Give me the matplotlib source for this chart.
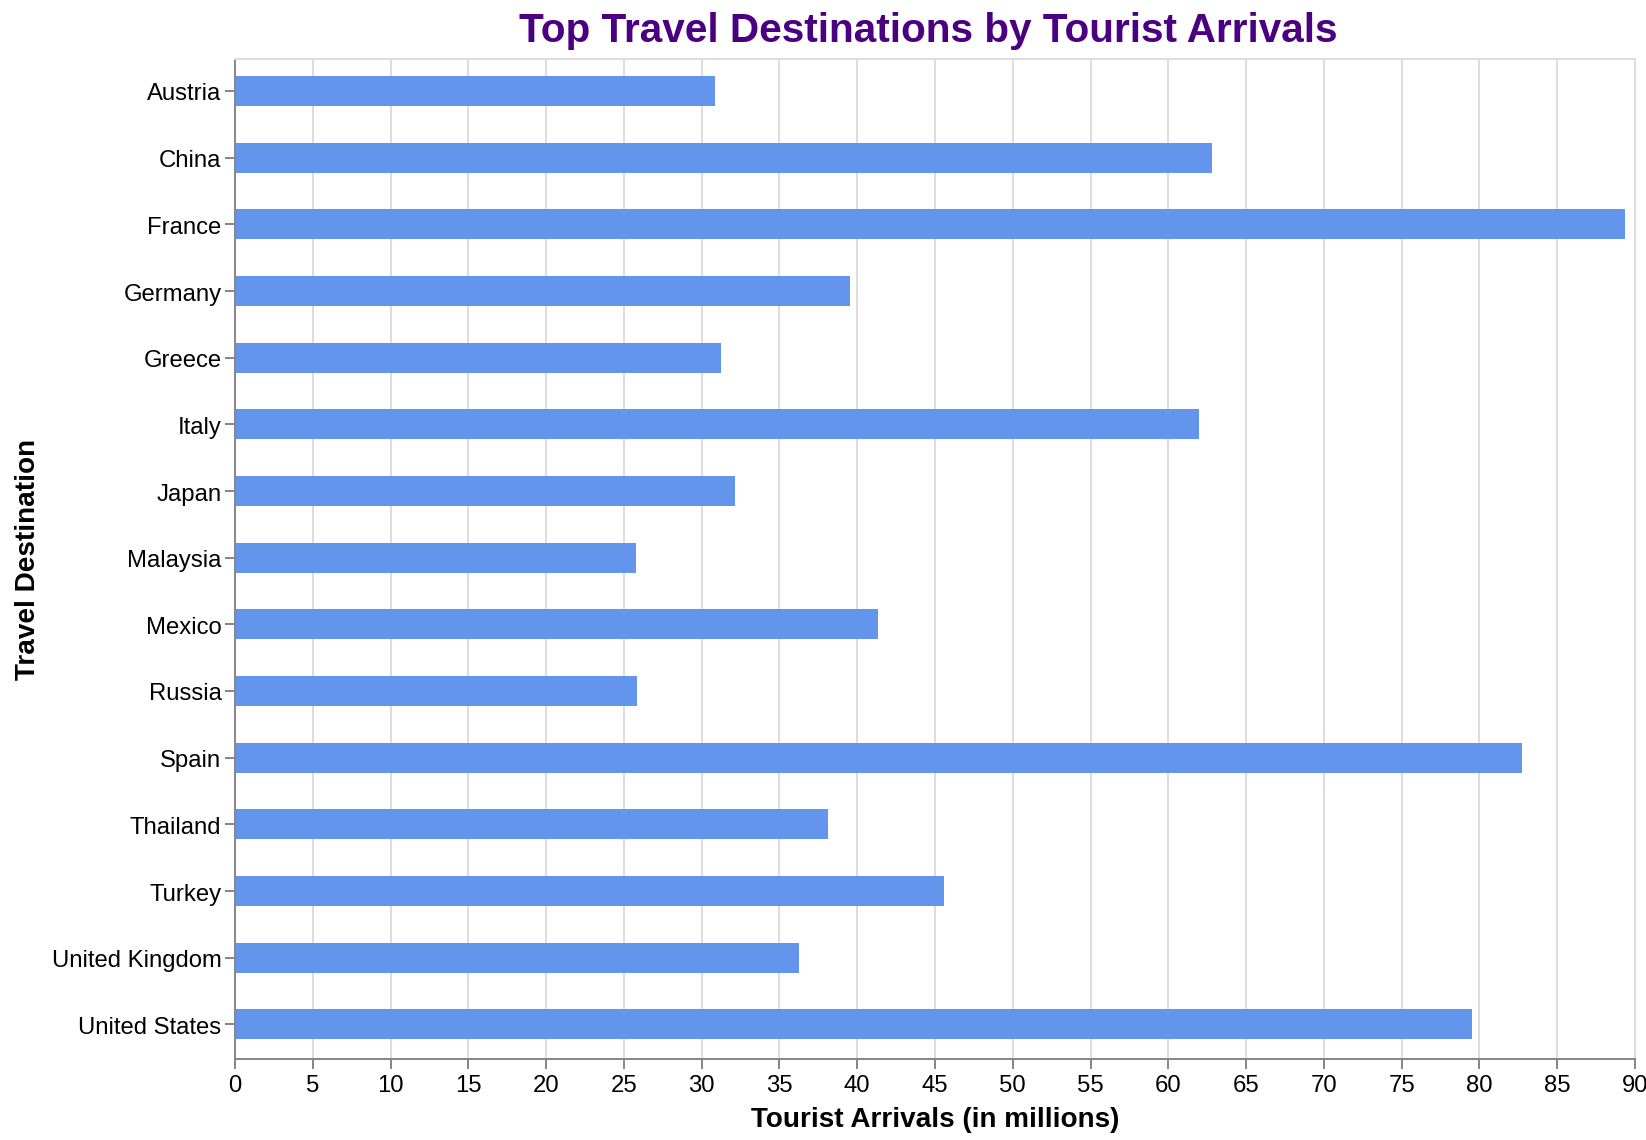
#!/usr/bin/env python3
"""Top travel destinations as a horizontal bar chart"""

import matplotlib
matplotlib.use('Agg')
import matplotlib.pyplot as plt
from matplotlib.transforms import ScaledTranslation

plt.rcParams['font.family'] = ['Liberation Sans', 'DejaVu Sans']

# Values (millions)
COUNTRIES = ['Austria', 'China', 'France', 'Germany', 'Greece', 'Italy', 'Japan',
             'Malaysia', 'Mexico', 'Russia', 'Spain', 'Thailand', 'Turkey',
             'United Kingdom', 'United States']
ARRIVALS = [30.85, 62.8, 89.35, 39.55, 31.25, 62.0, 32.15, 25.75, 41.35, 25.85,
            82.75, 38.15, 45.55, 36.25, 79.55]
X_TICKS = list(range(0, 95, 5))

W, H = 1646, 1140
fig = plt.figure(figsize=(W / 100, H / 100), dpi=100)

# plot area in pixels
left, right, top, bottom = 235, 1635, 59, 1059
ax = fig.add_axes([left / W, 1 - bottom / H, (right - left) / W, (bottom - top) / H])

y_pos = list(range(len(COUNTRIES)))
ax.barh(y_pos, ARRIVALS, height=0.45, color='#6495ED', zorder=2)

ax.set_xlim(0, 90)
# bars sit about a pixel above the middle of their bands
ax.set_ylim(len(COUNTRIES) - 0.48, -0.48)
ax.set_xticks(X_TICKS)
ax.set_yticks(y_pos)
ax.set_yticklabels(COUNTRIES)

ax.grid(axis='x', color='#dddddd', linewidth=1.44, zorder=0)
ax.set_axisbelow(True)

for side in ['top', 'right']:
    ax.spines[side].set_color('#dddddd')
    ax.spines[side].set_linewidth(1.44)
for side in ['left', 'bottom']:
    ax.spines[side].set_color('#888888')
    ax.spines[side].set_linewidth(1.44)

ax.tick_params(axis='both', length=7.2, width=1.44, color='#888888', labelsize=17.2)
ax.tick_params(axis='y', pad=2.6)
ax.tick_params(axis='x', pad=4)

# country names sit a pixel lower than their ticks
nudge = ScaledTranslation(0, -1 / fig.dpi, fig.dpi_scale_trans)
for label in ax.get_yticklabels():
    label.set_transform(label.get_transform() + nudge)

fig.text(28 / W, 1 - 559 / H, 'Travel Destination', rotation=90, fontsize=20.1,
         fontweight='bold', ha='center', va='center')
fig.text(935 / W, 1 - 1120 / H, 'Tourist Arrivals (in millions)', fontsize=20.1,
         fontweight='bold', ha='center', va='center')
fig.text(928 / W, 1 - 31 / H, 'Top Travel Destinations by Tourist Arrivals', fontsize=29.2,
         fontweight='bold', color='#4B0082', ha='center', va='center')

fig.savefig('out.png', dpi=100)
